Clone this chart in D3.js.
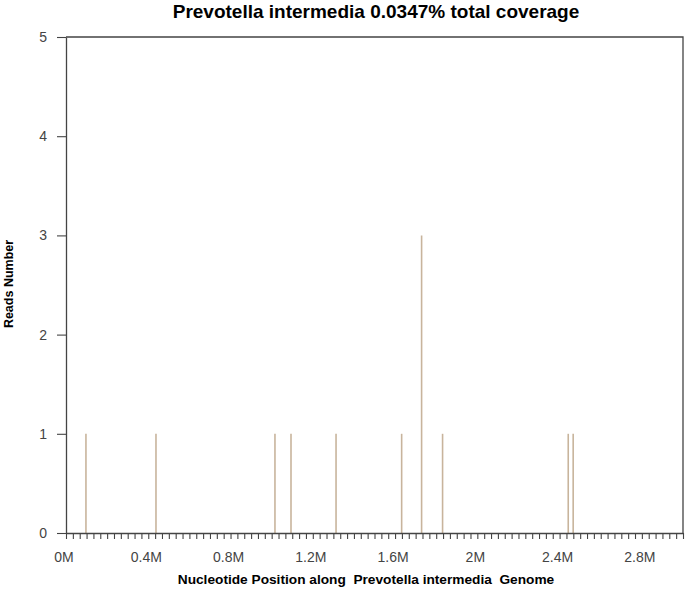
<!DOCTYPE html>
<html>
<head>
<meta charset="utf-8">
<script src="https://cdn.jsdelivr.net/npm/d3@7"></script>
<style>
  body { margin: 0; background: #fff; }
  text { font-family: "Liberation Sans", Arial, sans-serif; }
</style>
</head>
<body>
<div id="viz"></div>
<script>
// read positions (Mb) and read counts
const positions = [0.097, 0.4375, 1.016, 1.094, 1.313, 1.632, 1.729, 1.831, 2.442, 2.466];
const reads = [1, 1, 1, 1, 1, 1, 3, 1, 1, 1];
const xTickValues = [0, 0.4, 0.8, 1.2, 1.6, 2.0, 2.4, 2.8];
const yTickValues = [0, 1, 2, 3, 4, 5];
const genomeLength = 3.0;

const width = 685;
const height = 593;
const margin = { top: 37, right: 2, bottom: 60, left: 66 };

const svg = d3.select('#viz')
  .append('svg')
  .attr('width', width)
  .attr('height', height);

const xScale = d3.scaleLinear()
  .domain([0, genomeLength])
  .range([margin.left, width - margin.right]);

const yScale = d3.scaleLinear()
  .domain([0, 5])
  .range([height - margin.bottom, margin.top]);

// title
svg.append('text')
  .attr('x', 376)
  .attr('y', 18)
  .attr('text-anchor', 'middle')
  .style('font-size', '19px')
  .style('font-weight', 'bold')
  .text('Prevotella intermedia 0.0347% total coverage');

// box (top and right)
svg.append('path')
  .attr('d', `M${xScale(0)},${yScale(5)}H${xScale(genomeLength)}V${yScale(0)}`)
  .attr('fill', 'none')
  .attr('stroke', '#444')
  .attr('stroke-width', 1.3);

// read lines
svg.append('g')
  .selectAll('line')
  .data(positions)
  .join('line')
  .attr('x1', d => xScale(d))
  .attr('x2', d => xScale(d))
  .attr('y1', yScale(0))
  .attr('y2', (d, i) => yScale(reads[i]))
  .attr('stroke', '#c8b49c')
  .attr('stroke-width', 1.6);

// x axis: minor ticks every 1/30 Mb, labels on the majors
const minorTicks = d3.range(0, 91).map(i => i / 30);
const xAxis = svg.append('g')
  .attr('transform', `translate(0,${yScale(0)})`)
  .call(d3.axisBottom(xScale)
    .tickValues(minorTicks)
    .tickSize(6)
    .tickSizeOuter(0)
    .tickFormat(''));
xAxis.select('.domain').attr('stroke', '#444').attr('stroke-width', 1.3);
xAxis.selectAll('.tick line').attr('stroke', '#444').attr('stroke-width', 1.1);

svg.append('g')
  .selectAll('text')
  .data(xTickValues)
  .join('text')
  .attr('x', d => xScale(d) - 2)
  .attr('y', yScale(0) + 29)
  .attr('text-anchor', 'middle')
  .style('font-size', '14px')
  .style('fill', '#444')
  .text(d => d3.format('~g')(d) + 'M');

// y axis
const yAxis = svg.append('g')
  .attr('transform', `translate(${margin.left},0)`)
  .call(d3.axisLeft(yScale)
    .tickValues(yTickValues)
    .tickFormat(d3.format('d'))
    .tickSize(9)
    .tickSizeOuter(0)
    .tickPadding(10));
yAxis.select('.domain').attr('stroke', '#444').attr('stroke-width', 1.3);
yAxis.selectAll('.tick line').attr('stroke', '#444').attr('stroke-width', 1.1);
yAxis.selectAll('.tick text')
  .style('font-size', '14px')
  .style('fill', '#444')
  .style('font-family', '"Liberation Sans", Arial, sans-serif');

// axis labels
svg.append('text')
  .attr('x', 366)
  .attr('y', 584)
  .attr('text-anchor', 'middle')
  .style('font-size', '13.7px')
  .style('font-weight', 'bold')
  .attr('xml:space', 'preserve')
  .text('Nucleotide Position along  Prevotella intermedia  Genome');

svg.append('text')
  .attr('transform', 'translate(13,284) rotate(-90)')
  .attr('text-anchor', 'middle')
  .style('font-size', '12.5px')
  .style('font-weight', 'bold')
  .text('Reads Number');
</script>
</body>
</html>
